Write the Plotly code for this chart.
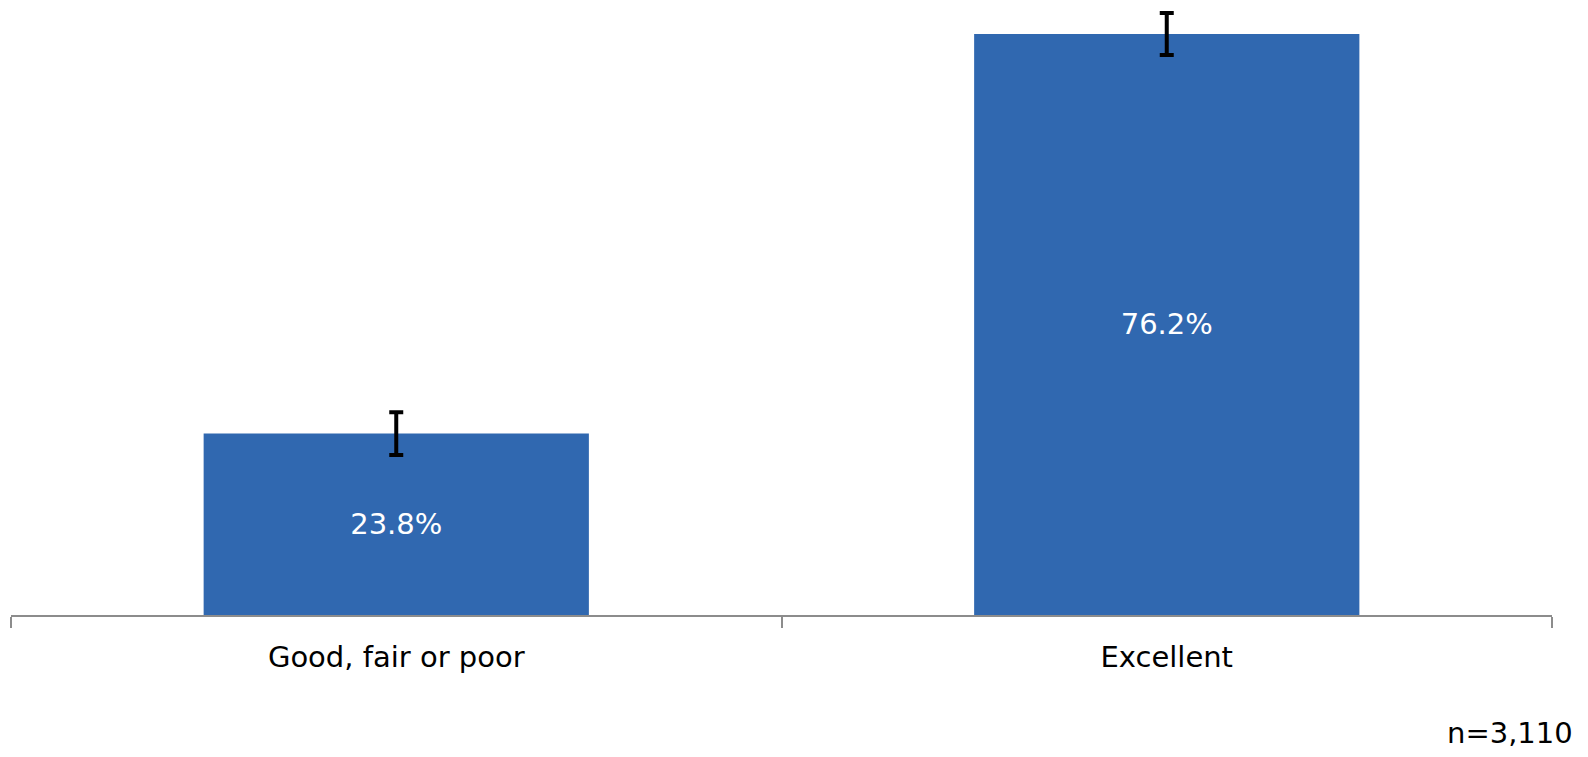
import plotly.graph_objects as go

categories = ["Good, fair or poor", "Excellent"]
values = [23.8, 76.2]
errors = [2.8, 2.75]
labels = ["23.8%", "76.2%"]
note = "n=3,110"

FONT = "DejaVu Sans"
BAR = "#3068B0"
FS = 29

fig = go.Figure()
fig.add_trace(go.Bar(
    x=categories, y=values, width=0.5,
    marker=dict(color=BAR, line=dict(width=0)),
    text=labels, textposition="inside", insidetextanchor="middle",
    textfont=dict(family=FONT, size=FS, color="white"),
    error_y=dict(type="data", array=errors, visible=True, color="black",
                 thickness=4, width=7),
    hoverinfo="skip",
))

fig.add_annotation(text=note, xref="paper", yref="paper", x=1.0 + 23/1541, y=-118/610,
                   xanchor="right", yanchor="middle", showarrow=False,
                   font=dict(family=FONT, size=FS, color="black"))

fig.update_layout(
    width=1588, height=757,
    margin=dict(l=11, r=36, t=5, b=142),
    paper_bgcolor="white", plot_bgcolor="white",
    showlegend=False,
    font=dict(family=FONT, size=FS, color="black"),
    xaxis=dict(showline=True, linecolor="#8C8C8C", linewidth=2,
               ticks="outside", tickson="boundaries", ticklen=11, tickwidth=2,
               tickcolor="#8C8C8C", showgrid=False,
               tickfont=dict(family=FONT, size=FS, color="black"),
               ticklabelstandoff=15),
    yaxis=dict(range=[0, 80], visible=False, showgrid=False, zeroline=False),
)

fig.write_html("out.html", config={"displayModeBar": False},
               post_script="document.body.style.margin='0px';")
